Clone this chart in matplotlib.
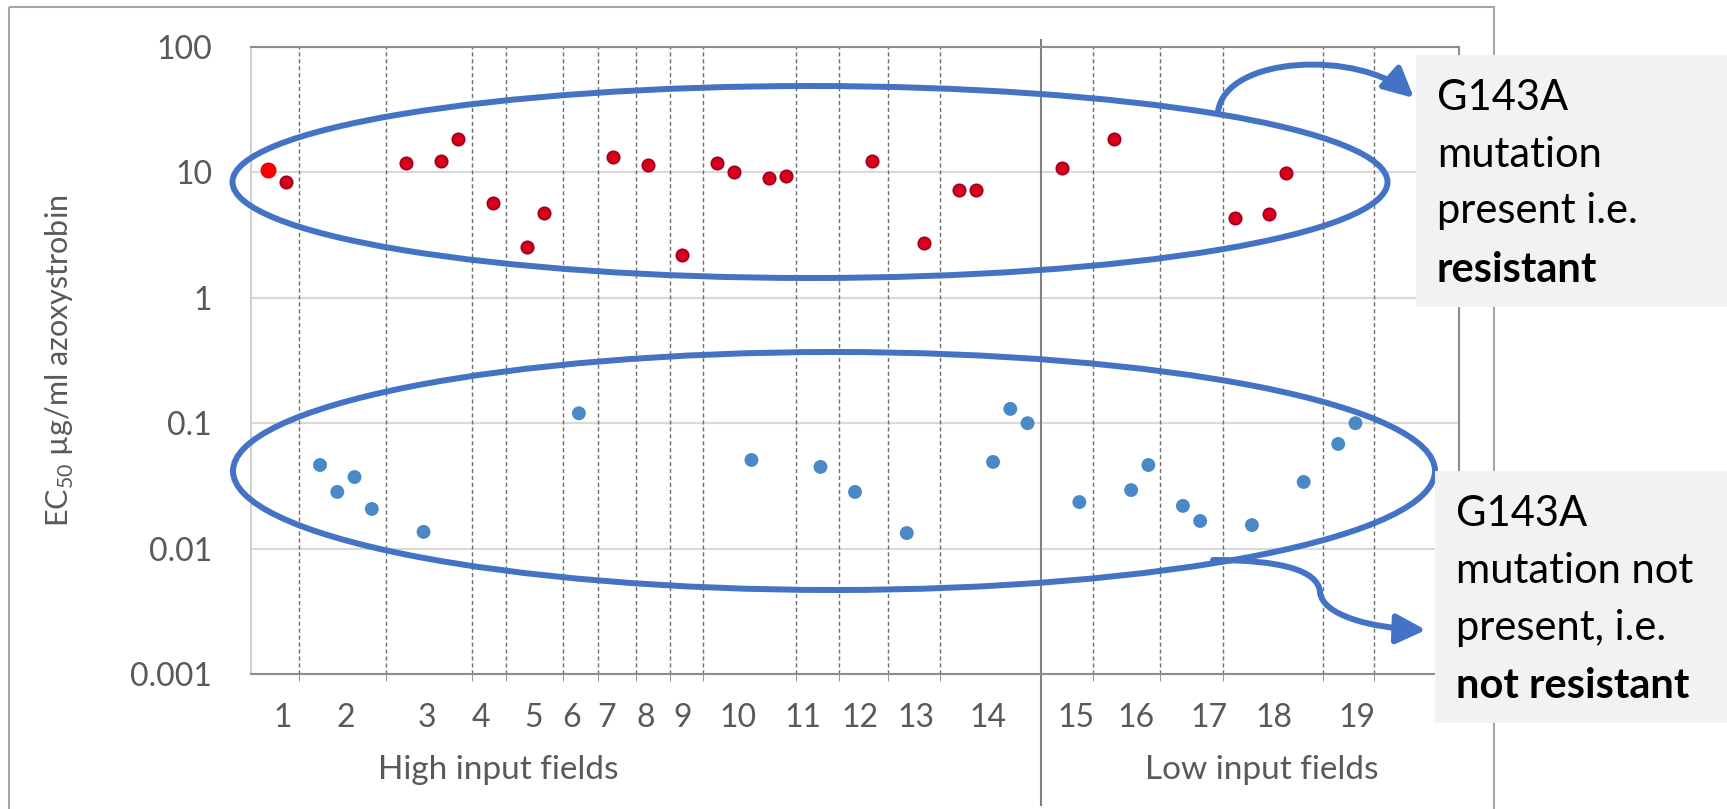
import matplotlib
matplotlib.use("Agg")
import matplotlib.pyplot as plt
from matplotlib.patches import Ellipse, Rectangle, FancyArrowPatch
from matplotlib.path import Path
from matplotlib.ticker import NullLocator

plt.rcParams["font.family"] = ["Lato", "DejaVu Sans"]
plt.rcParams["mathtext.fontset"] = "custom"
plt.rcParams["mathtext.rm"] = "Lato"

# isolate position along the x axis and EC50 (ug/ml azoxystrobin)
red_x = [1, 2, 9, 11, 12, 14, 16, 17, 21, 23, 25, 27, 28, 30, 31, 36, 39, 41, 42, 47, 50, 57, 59, 60]
red_y = [10.4, 8.4, 11.9, 12.3, 18.5, 5.7, 2.54, 4.75, 13.3, 11.5, 2.19, 11.9, 10.1, 9.0, 9.4,
         12.3, 2.74, 7.2, 7.2, 10.8, 18.5, 4.33, 4.66, 9.9]

blue_x = [4, 5, 6, 7, 10, 19, 29, 33, 35, 38, 43, 44, 45, 48, 51, 52, 54, 55, 58, 61, 63, 64]
blue_y = [0.0464, 0.0283, 0.0372, 0.0207, 0.0136, 0.12, 0.0509, 0.0448, 0.0283, 0.0133, 0.0491,
          0.130, 0.100, 0.0235, 0.0293, 0.0464, 0.0219, 0.0166, 0.0154, 0.034, 0.0683, 0.100]

# field boundaries (dotted) and the high/low input split (solid)
field_edges = [2.8, 7.8, 12.8, 14.8, 18.1, 20.1, 22.3, 24.3, 26.2, 31.6, 34.1, 36.9, 39.9,
               48.8, 52.7, 56.3, 62.1, 65.1]
split_x = 45.8
field_pos = [1.85, 5.5, 10.2, 13.3, 16.4, 18.6, 20.6, 22.9, 25.0, 28.2, 32.0, 35.3, 38.5, 42.7,
             47.8, 51.3, 55.5, 59.3, 64.1]
field_labels = [str(i) for i in range(1, 20)]

grey = "#595959"

fig = plt.figure(figsize=(17.27, 8.09), dpi=100)
ax = fig.add_axes([251 / 1727, 1 - 674 / 809, (1459 - 251) / 1727, (674 - 47) / 809])

ax.set_yscale("log")
ax.set_ylim(0.001, 100)
ax.set_xlim(0, 70)
ax.set_yticks([0.001, 0.01, 0.1, 1, 10, 100])
ax.set_yticklabels(["0.001", "0.01", "0.1", "1", "10", "100"])
ax.yaxis.set_minor_locator(NullLocator())
ax.yaxis.grid(True, color="#D9D9D9", lw=1.5)
ax.set_axisbelow(True)

ax.set_xticks(field_pos)
ax.set_xticklabels(field_labels)
ax.set_xticks(field_edges, minor=True)
ax.tick_params(axis="x", which="major", length=0, pad=21, labelsize=23, labelcolor=grey)
ax.tick_params(axis="x", which="minor", length=5, color="#808080", direction="out")
ax.tick_params(axis="y", length=0, pad=28, labelsize=23, labelcolor=grey)

for s in ["top", "right", "bottom"]:
    ax.spines[s].set_color("#8C8C8C")
    ax.spines[s].set_linewidth(1.5)
ax.spines["left"].set_color("#D0D0D0")
ax.spines["left"].set_linewidth(1.5)

for xe in field_edges:
    ax.axvline(xe, color="#6E6E6E", lw=1.0, ls=(0, (3, 2)), zorder=1)
ax.axvline(split_x, ymin=-0.209, ymax=1.011, color="#808080", lw=1.5, clip_on=False)

ax.scatter(red_x, red_y, s=80, color="#D8001A", edgecolors="#A00020", linewidths=1.2, zorder=3)
ax.scatter(red_x[:1], red_y[:1], s=110, color="#FF0000", edgecolors="#E00000", zorder=4)
ax.scatter(blue_x, blue_y, s=100, color="#4A89C8", edgecolors="none", zorder=3)

ax.set_ylabel("EC$_{50}$ µg/ml azoxystrobin", fontsize=22, color=grey, labelpad=0)
ax.yaxis.set_label_coords(-0.145, 0.5)

# overlay in pixel coordinates for frame, ellipses, arrows and notes
ov = fig.add_axes([0, 0, 1, 1], zorder=5)
ov.set_xlim(0, 1727)
ov.set_ylim(809, 0)
ov.axis("off")
ov.patch.set_alpha(0)

ov.add_patch(Rectangle((9, 7), 1485, 812, fill=False, ec="#A6A6A6", lw=1.5))

ov.text(498, 770, "High input fields", fontsize=24, color=grey, ha="center", va="center")
ov.text(1262, 770, "Low input fields", fontsize=24, color=grey, ha="center", va="center")

blue = "#4472C4"
lw_note = 4.3
ov.add_patch(Ellipse((810, 182), 1155, 192, fill=False, ec=blue, lw=lw_note))
ov.add_patch(Ellipse((834, 471), 1202, 238, fill=False, ec=blue, lw=lw_note))

up = Path([(1218, 112), (1225, 55), (1360, 50), (1414, 98)],
          [Path.MOVETO, Path.CURVE4, Path.CURVE4, Path.CURVE4])
ov.add_patch(FancyArrowPatch(path=up, arrowstyle="-|>,head_length=0.9,head_width=0.45",
                             mutation_scale=20, color=blue, lw=lw_note, transform=ov.transData))
down = Path([(1213, 560), (1280, 560), (1318, 570), (1320, 592),
             (1322, 615), (1370, 628), (1426, 630)],
            [Path.MOVETO, Path.CURVE4, Path.CURVE4, Path.CURVE4,
             Path.CURVE4, Path.CURVE4, Path.CURVE4])
ov.add_patch(FancyArrowPatch(path=down, arrowstyle="-|>,head_length=0.9,head_width=0.45",
                             mutation_scale=20, color=blue, lw=lw_note, transform=ov.transData))

ov.add_patch(Rectangle((1416, 55), 400, 252, fc="#F2F2F2", ec="none", zorder=3))
ov.add_patch(Rectangle((1435, 471), 400, 252, fc="#F2F2F2", ec="none", zorder=3))

for txt, yb, w in [("G143A", 110, "normal"), ("mutation", 167, "normal"),
                   ("present i.e.", 223, "normal"), ("resistant", 282, "bold")]:
    ov.text(1437, yb, txt, fontsize=30, fontweight=w, color="black", va="baseline", zorder=4)
for txt, yb, w in [("G143A", 526, "normal"), ("mutation not", 583, "normal"),
                   ("present, i.e.", 640, "normal"), ("not resistant", 698, "bold")]:
    ov.text(1456, yb, txt, fontsize=30, fontweight=w, color="black", va="baseline", zorder=4)

fig.savefig("out.png", dpi=100)
